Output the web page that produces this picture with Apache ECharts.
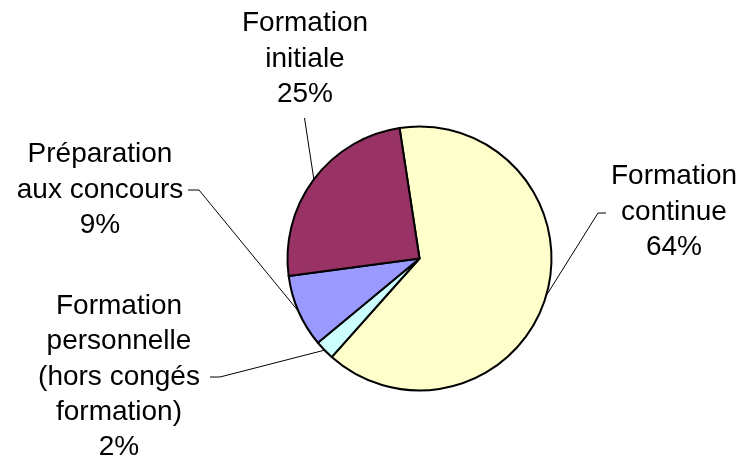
<!DOCTYPE html>
<html>
<head>
<meta charset="utf-8">
<script src="https://cdn.jsdelivr.net/npm/echarts@6/dist/echarts.min.js"></script>
<style>html,body{margin:0;padding:0;background:#fff}#c{width:742px;height:457px}</style>
</head>
<body>
<div id="c"></div>
<script>
// Data
var categories = [
  'Formation\ncontinue',
  'Formation\npersonnelle\n(hors congés\nformation)',
  'Préparation\naux concours',
  'Formation\ninitiale'
];
var values = [64, 2.4, 8.9, 24.7];
var colors = ['#FFFFCC', '#CCFFFF', '#9999FF', '#993366'];

// Label placement (styling only)
var labelPlace = [
  { x: 674, y: 212, bend: [598, 213], end: [606, 213] },
  { x: 119, y: 377, bend: [220, 377], end: [210, 377] },
  { x: 100, y: 190, bend: [199, 190], end: [188, 190] },
  { x: 305, y: 59,  bend: [304.5, 118], end: [304.5, 118] }
];

var chart = echarts.init(document.getElementById('c'), null, { renderer: 'canvas' });
chart.setOption({
  animation: false,
  backgroundColor: '#ffffff',
  series: [{
    type: 'pie',
    center: [419.5, 258.5],
    radius: 132,
    startAngle: 98.7,
    clockwise: true,
    avoidLabelOverlap: false,
    emphasis: { disabled: true },
    itemStyle: { borderColor: '#000', borderWidth: 2 },
    label: {
      show: true,
      position: 'outside',
      color: '#000',
      fontFamily: 'Liberation Sans, Arial, sans-serif',
      fontSize: 28,
      lineHeight: 35.3,
      align: 'center',
      formatter: function (p) { return p.name + '\n' + Math.round(p.percent) + '%'; }
    },
    labelLine: { show: true, length: 10, length2: 10, smooth: false, lineStyle: { color: '#000', width: 1 } },
    labelLayout: function (params) {
      var lp = labelPlace[params.dataIndex];
      var edge = params.labelLinePoints ? params.labelLinePoints[0] : [lp.bend[0], lp.bend[1]];
      return {
        x: lp.x, y: lp.y, align: 'center', verticalAlign: 'middle',
        labelLinePoints: [edge, lp.bend, lp.end]
      };
    },
    data: categories.map(function (c, i) {
      return { name: c, value: values[i], itemStyle: { color: colors[i] } };
    })
  }]
});
</script>
</body>
</html>
